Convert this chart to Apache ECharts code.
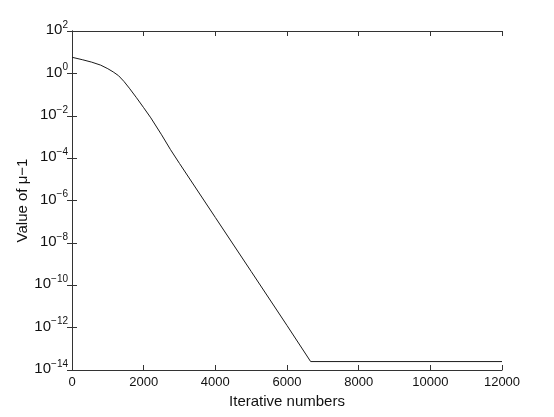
<!DOCTYPE html>
<html>
<head>
<meta charset="utf-8">
<script src="https://cdn.jsdelivr.net/npm/echarts@6/dist/echarts.min.js"></script>
<style>
  html, body { margin: 0; padding: 0; background: #fff; }
  #chart { width: 554px; height: 417px; }
</style>
</head>
<body>
<div id="chart"></div>
<script>
// iteration numbers and values of mu-1
const iterations = [0, 300, 550, 800, 1000, 1150, 1300, 1450, 1600, 1800, 2000, 2200, 2500, 2750, 3000, 4000, 5000, 6000, 6660, 12000];
const muMinusOne = [5.75, 4.37, 3.39, 2.45, 1.66, 1.17, 0.776, 0.417, 0.2, 0.0708, 0.024, 0.00794, 1.26e-3, 2.5e-4, 5.6e-5, 1.58e-7, 4.5e-10, 1.26e-12, 2.5e-14, 2.5e-14];

const FONT = 'Liberation Sans, Arial, sans-serif';
const axisColor = '#333';

const chart = echarts.init(document.getElementById('chart'), null, { renderer: 'canvas' });

function powLabel(v) {
  const e = Math.round(Math.log10(v));
  return '{b|10}{s|' + (e < 0 ? '\u2212' + (-e) : e) + '}';
}

const tickInside = { show: true, inside: true, length: 5, lineStyle: { color: axisColor } };

chart.setOption({
  animation: false,
  backgroundColor: '#fff',
  grid: { left: 72, right: 52, top: 31, bottom: 47 },
  xAxis: [
    {
      type: 'value',
      min: 0,
      max: 12000,
      interval: 2000,
      name: 'Iterative numbers',
      nameLocation: 'middle',
      nameGap: 24,
      nameTextStyle: { fontFamily: FONT, fontSize: 15, color: '#111' },
      axisLine: { lineStyle: { color: axisColor, width: 1 } },
      axisTick: tickInside,
      axisLabel: { fontFamily: FONT, fontSize: 13, color: '#111', margin: 6, formatter: (v) => String(v) },
      splitLine: { show: false }
    },
    {
      type: 'value',
      position: 'top',
      min: 0,
      max: 12000,
      interval: 2000,
      axisLine: { show: true, lineStyle: { color: axisColor, width: 1 } },
      axisTick: tickInside,
      axisLabel: { show: false },
      splitLine: { show: false }
    }
  ],
  yAxis: [
    {
      type: 'log',
      logBase: 10,
      min: 1e-14,
      max: 1e2,
      interval: 2,
      name: 'Value of \u03bc\u22121',
      nameLocation: 'middle',
      nameGap: 42,
      nameMoveOverlap: false,
      nameTextStyle: { fontFamily: FONT, fontSize: 15, color: '#111' },
      axisLine: { show: true, lineStyle: { color: axisColor, width: 1 } },
      axisTick: tickInside,
      axisLabel: {
        margin: 4,
        padding: [0, 0, 2, 0],
        formatter: powLabel,
        rich: {
          b: { fontFamily: FONT, fontSize: 15, color: '#111' },
          s: { fontFamily: FONT, fontSize: 10, color: '#111', padding: [0, 0, 10, 0] }
        }
      },
      splitLine: { show: false }
    },
    {
      type: 'log',
      logBase: 10,
      position: 'right',
      min: 1e-14,
      max: 1e2,
      interval: 2,
      axisLine: { show: true, lineStyle: { color: axisColor, width: 1 } },
      axisTick: tickInside,
      axisLabel: { show: false },
      splitLine: { show: false }
    }
  ],
  series: [
    {
      type: 'line',
      data: iterations.map((x, i) => [x, muMinusOne[i]]),
      showSymbol: false,
      symbol: 'none',
      lineStyle: { color: '#1a1a1a', width: 1 }
    }
  ]
});
</script>
</body>
</html>
